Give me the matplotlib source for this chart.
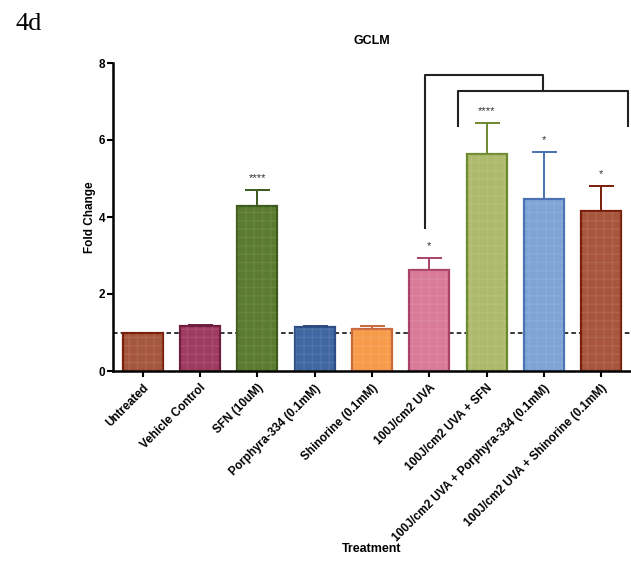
import numpy as np
import matplotlib.pyplot as plt

# ================= data =================
treatments = ['Untreated', 'Vehicle Control', 'SFN (10uM)', 'Porphyra-334 (0.1mM)',
              'Shinorine (0.1mM)', '100J/cm2 UVA', '100J/cm2 UVA + SFN',
              '100J/cm2 UVA + Porphyra-334 (0.1mM)', '100J/cm2 UVA + Shinorine (0.1mM)']
fold_change = [1.00, 1.17, 4.29, 1.13, 1.09, 2.62, 5.64, 4.46, 4.16]
err = [0.00, 0.02, 0.41, 0.03, 0.07, 0.31, 0.81, 1.23, 0.65]
stars = ['', '', '****', '', '', '*', '****', '*', '*']

fill_colors = ['#A5573D', '#9F3B60', '#5B7B2F', '#3F67A1', '#F79A4A',
               '#D97A98', '#ADBA6C', '#7FA4D6', '#A8553D']
edge_colors = ['#7A1E0C', '#6E1D3E', '#3B5A1B', '#2C4C84', '#C8683A',
               '#A84068', '#6B8A2B', '#4A71B2', '#7A1C0A']

plt.rcParams['font.family'] = ['Liberation Sans', 'DejaVu Sans']
plt.rcParams['font.weight'] = 'bold'

fig = plt.figure(figsize=(6.31, 5.62), dpi=100)
ax = fig.add_axes([113 / 631, 191 / 562, 518 / 631, 308 / 562])

x = np.arange(len(treatments))

# reference line at 1
ax.axhline(1.0, color='black', linestyle=(0, (3, 2)), linewidth=1.1, zorder=1)

ax.bar(x, fold_change, width=0.7, color=fill_colors, edgecolor=edge_colors,
       linewidth=1.6, zorder=2)
# faint grid texture on bars
ax.bar(x, fold_change, width=0.7, fill=False, hatch='++', edgecolor=(1, 1, 1, 0.09),
       linewidth=0, zorder=3)

for xi, v, e, c in zip(x, fold_change, err, edge_colors):
    if e > 0:
        ax.errorbar(xi, v, yerr=[[0], [e]], color=c, capsize=9, capthick=1.4,
                    elinewidth=1.4, zorder=1.5)

for xi, v, e, s in zip(x, fold_change, err, stars):
    if s:
        ax.text(xi, v + e + 0.18, s, ha='center', va='bottom', fontsize=8,
                color='#333333', fontweight='normal')

# significance brackets
ax.plot([4.93, 4.93, 6.98, 6.98], [3.71, 7.70, 7.70, 7.28], color='#222222',
        linewidth=1.5, clip_on=False, zorder=4)
ax.plot([5.50, 5.50, 8.46, 8.46], [6.37, 7.28, 7.28, 6.37], color='#222222',
        linewidth=1.5, clip_on=False, zorder=4)

ax.set_xlim(-0.52, 8.52)
ax.set_ylim(0, 8)
ax.set_yticks([0, 2, 4, 6, 8])
ax.set_xticks(x)
ax.set_xticklabels(treatments, rotation=45, ha='right', rotation_mode='anchor',
                   fontsize=8.5, fontweight='bold')
ax.tick_params(axis='both', width=1.5, length=4, labelsize=8.5)
ax.tick_params(axis='x', pad=4)
ax.tick_params(axis='y', pad=1.5)

for side in ['top', 'right']:
    ax.spines[side].set_visible(False)
for side in ['left', 'bottom']:
    ax.spines[side].set_linewidth(1.8)

ax.set_ylabel('Fold Change', fontsize=8.5, fontweight='bold', labelpad=2)
ax.set_xlabel('Treatment', fontsize=9, fontweight='bold')
ax.xaxis.set_label_coords(0.5, -0.56)
ax.set_title('GCLM', fontsize=9, fontweight='bold', pad=14)

fig.text(15 / 631, 1 - 30 / 562, '4d', fontsize=19, fontweight='normal',
         family=['Liberation Serif', 'DejaVu Serif'])

plt.savefig('out.png', dpi=100)
plt.close()
